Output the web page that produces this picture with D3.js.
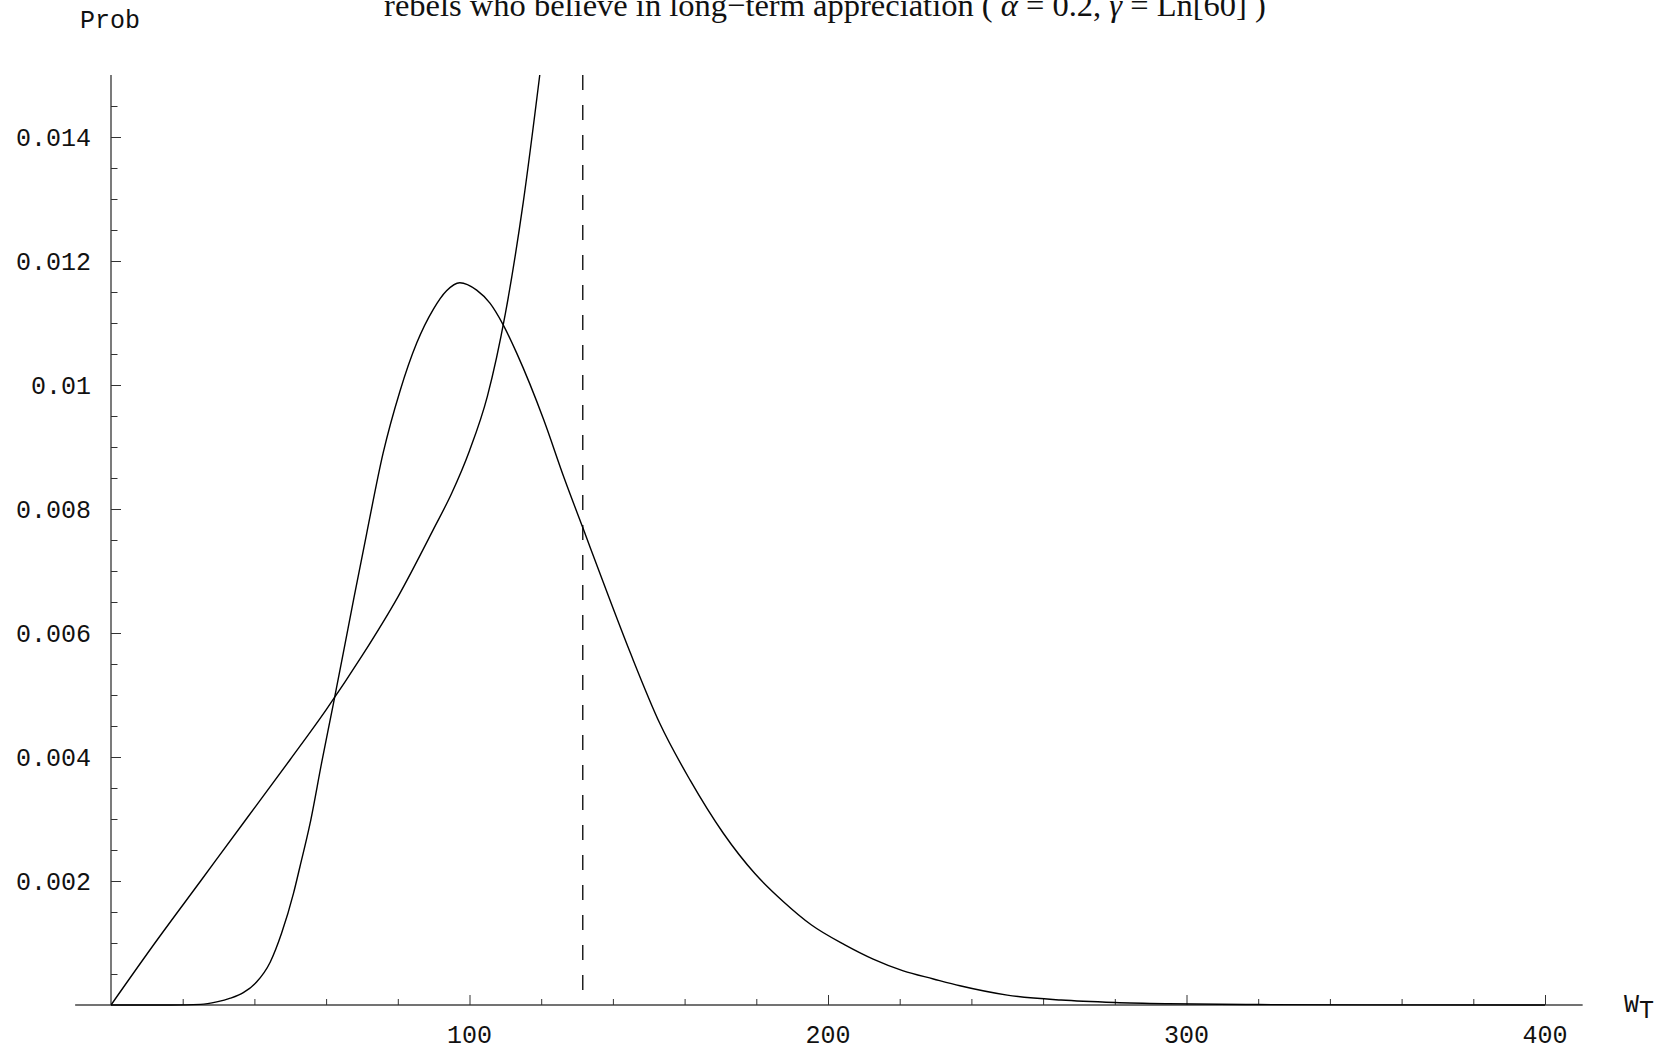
<!DOCTYPE html>
<html>
<head>
<meta charset="utf-8">
<script src="https://cdn.jsdelivr.net/npm/d3@7"></script>
<style>
  body { margin: 0; background: #fff; }
  svg { display: block; }
  .tick-label { font-family: "Liberation Mono", "DejaVu Sans Mono", monospace; font-size: 25px; fill: #111; }
</style>
</head>
<body>
<svg id="chart"></svg>
<script>
const width = 1669;
const height = 1050;

// density of terminal wealth (bell shaped)
const densityX = [0, 16.7, 25, 29.5, 33.3, 36.9, 40.6, 44.4, 47.6, 50.9, 52.7, 55.5, 58.8, 62, 64.8, 67.8, 71.3, 75.9, 80.6, 85.3, 89.9, 93.6, 97.3, 102, 105.7, 109.4, 113.2, 120.7, 126.4, 131.6, 137.1, 145, 153.1, 161.5, 170.8, 179.6, 187.5, 195.4, 204.7, 212.6, 221, 229.4, 236.8, 250, 265, 280, 295, 320, 350, 400];
const densityY = [0, 0, 0.00001, 0.00005, 0.00011, 0.0002, 0.00037, 0.00069, 0.00116, 0.0018, 0.00223, 0.00292, 0.00392, 0.00485, 0.00568, 0.00658, 0.0076, 0.0089, 0.0099, 0.01068, 0.01122, 0.01152, 0.01165, 0.01153, 0.01132, 0.01097, 0.01051, 0.00944, 0.0085, 0.0077, 0.00685, 0.00566, 0.00454, 0.00363, 0.00277, 0.00212, 0.00167, 0.00129, 0.00097, 0.00074, 0.00055, 0.00042, 0.00031, 0.00016, 0.00008, 0.00004, 0.00002, 0.000007, 0.000002, 0];

// rebels' believed density (rising curve)
const rebelX = [0, 12, 25, 38, 50, 60, 70, 80, 90, 95, 100, 105, 110, 115, 119.6];
const rebelY = [0, 0.00098, 0.002, 0.00302, 0.00396, 0.00476, 0.00563, 0.00658, 0.00768, 0.00825, 0.00894, 0.00982, 0.01115, 0.01295, 0.015];

const dashedX = 131.6;

const xMajor = [100, 200, 300, 400];
const xMinor = d3.range(20, 401, 20).filter(d => d % 100 !== 0);
const yMajor = [0.002, 0.004, 0.006, 0.008, 0.01, 0.012, 0.014];
const yMajorLabels = ["0.002", "0.004", "0.006", "0.008", "0.01", "0.012", "0.014"];
const yMinor = d3.range(1, 30).map(d => d * 0.0005).filter(d => Math.abs(d / 0.002 - Math.round(d / 0.002)) > 1e-6);

const titleText = "rebels who believe in long\u2212term appreciation ( ";

const svg = d3.select("#chart").attr("width", width).attr("height", height);

const x = d3.scaleLinear().domain([0, 400]).range([111, 1545]);
const y = d3.scaleLinear().domain([0, 0.015]).range([1005, 75]);

// title (partly cut off at the top like the original)
const title = svg.append("text")
    .attr("x", 825)
    .attr("y", 16)
    .attr("text-anchor", "middle")
    .attr("font-family", "'Liberation Serif', 'Times New Roman', serif")
    .attr("font-size", 32.5)
    .attr("fill", "#111");
title.append("tspan").text(titleText);
title.append("tspan").attr("font-style", "italic").text("\u03b1");
title.append("tspan").text(" = 0.2, ");
title.append("tspan").attr("font-style", "italic").text("\u03b3");
title.append("tspan").text(" = Ln[60] )");

// axes lines
svg.append("line")
    .attr("x1", x(-10)).attr("x2", x(410.5))
    .attr("y1", y(0)).attr("y2", y(0))
    .attr("stroke", "#444").attr("stroke-width", 1.3);
svg.append("line")
    .attr("x1", x(0)).attr("x2", x(0))
    .attr("y1", y(0)).attr("y2", y(0.015))
    .attr("stroke", "#222").attr("stroke-width", 1.2);

// x ticks
const xAxisMajor = d3.axisBottom(x).tickValues(xMajor).tickSize(-10).tickPadding(0).tickFormat("");
const xAxisMinor = d3.axisBottom(x).tickValues(xMinor).tickSize(-6).tickFormat("");
svg.append("g").attr("transform", `translate(0,${y(0)})`).call(xAxisMinor).call(g => g.select(".domain").remove());
svg.append("g").attr("transform", `translate(0,${y(0)})`).call(xAxisMajor).call(g => g.select(".domain").remove());
svg.selectAll(".tick line").attr("stroke", "#333").attr("stroke-width", 1);

svg.selectAll(".xlab")
    .data(xMajor)
    .enter()
    .append("text")
    .attr("class", "tick-label")
    .attr("x", d => x(d))
    .attr("y", y(0) + 38)
    .attr("text-anchor", "middle")
    .text(d => d);

// y ticks
const yAxisMajor = d3.axisLeft(y).tickValues(yMajor).tickSize(-10).tickFormat("");
const yAxisMinor = d3.axisLeft(y).tickValues(yMinor).tickSize(-6.5).tickFormat("");
svg.append("g").attr("transform", `translate(${x(0)},0)`).call(yAxisMinor).call(g => g.select(".domain").remove());
svg.append("g").attr("transform", `translate(${x(0)},0)`).call(yAxisMajor).call(g => g.select(".domain").remove());
svg.selectAll(".tick line").attr("stroke", "#333").attr("stroke-width", 1);

svg.selectAll(".ylab")
    .data(yMajor)
    .enter()
    .append("text")
    .attr("class", "tick-label")
    .attr("x", x(0) - 20)
    .attr("y", d => y(d))
    .attr("dy", "0.35em")
    .attr("text-anchor", "end")
    .text((d, i) => yMajorLabels[i]);

// axis labels
svg.append("text")
    .attr("class", "tick-label")
    .attr("x", 80)
    .attr("y", 28)
    .text("Prob");
const wl = svg.append("text")
    .attr("class", "tick-label")
    .attr("x", 1624)
    .attr("y", 1012);
wl.append("tspan").text("W");
wl.append("tspan").attr("dy", 6).text("T");

// clip for the curves
svg.append("clipPath").attr("id", "plotclip")
    .append("rect")
    .attr("x", x(0)).attr("y", y(0.015))
    .attr("width", x(400) - x(0) + 2).attr("height", y(0) - y(0.015) + 2);

const line = d3.line()
    .x(d => x(d[0]))
    .y(d => y(d[1]))
    .curve(d3.curveMonotoneX);

const plotG = svg.append("g").attr("clip-path", "url(#plotclip)");

plotG.append("path")
    .datum(densityX.map((d, i) => [d, densityY[i]]))
    .attr("d", line)
    .attr("fill", "none")
    .attr("stroke", "#000")
    .attr("stroke-width", 1.4);

plotG.append("path")
    .datum(rebelX.map((d, i) => [d, rebelY[i]]))
    .attr("d", line)
    .attr("fill", "none")
    .attr("stroke", "#000")
    .attr("stroke-width", 1.4);

// dashed vertical line
svg.append("line")
    .attr("x1", x(dashedX)).attr("x2", x(dashedX))
    .attr("y1", y(0.015)).attr("y2", y(0))
    .attr("stroke", "#000")
    .attr("stroke-width", 1.3)
    .attr("stroke-dasharray", "15,15");
</script>
</body>
</html>
